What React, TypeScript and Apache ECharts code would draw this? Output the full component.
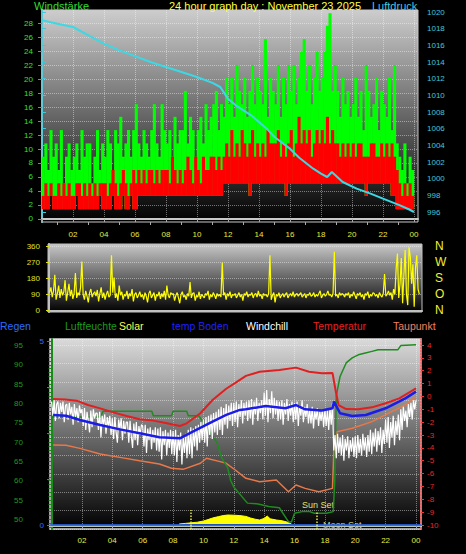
import React, { useEffect, useRef } from "react";
import * as echarts from "echarts";

const FONT = "'Liberation Sans', Arial, sans-serif";

// ---- axis tick values ----
const hourLabels = [2, 4, 6, 8, 10, 12, 14, 16, 18, 20, 22, 24];
const hourGrid = [0, 2, 4, 6, 8, 10, 12, 14, 16, 18, 20, 22, 24];
const oddHours = [1, 3, 5, 7, 9, 11, 13, 15, 17, 19, 21, 23];
const windTicks = [0, 2, 4, 6, 8, 10, 12, 14, 16, 18, 20, 22, 24, 26, 28];
const pressureTicks = [996, 998, 1000, 1002, 1004, 1006, 1008, 1010, 1012, 1014, 1016, 1018, 1020];
const dirTicks = [0, 90, 180, 270, 360];
const dirNames: Record<number, string> = { 0: "N", 90: "O", 180: "S", 270: "W", 360: "N" };
const humTicks = [50, 55, 60, 65, 70, 75, 80, 85, 90, 95];
const humMinorTicks = [48, 49, 50, 51, 52, 53, 54, 55, 56, 57, 58, 59, 60, 61, 62, 63, 64, 65, 66, 67, 68, 69, 70, 71, 72, 73, 74, 75, 76, 77, 78, 79, 80, 81, 82, 83, 84, 85, 86, 87, 88, 89, 90, 91, 92, 93, 94, 95, 96];
const rainLabels = [0, 5];
const rainTicks = [0, 1.25, 2.5, 3.75, 5];
const tempTicks = [-10, -9, -8, -7, -6, -5, -4, -3, -2, -1, 0, 1, 2, 3, 4];

// ---- wind (km/h), 10-minute samples ----
const windGust = [
  8.9, 10.8, 7.0, 12.7, 8.9, 10.8,
  7.0, 12.7, 5.1, 8.9, 10.8, 7.0,
  8.9, 10.8, 7.0, 12.7, 8.9, 10.8,
  10.8, 5.1, 8.9, 12.7, 7.0, 10.8,
  8.9, 12.7, 10.8, 7.0, 12.7, 10.8,
  14.6, 8.9, 10.8, 12.7, 8.9, 12.7,
  16.4, 10.8, 8.9, 12.7, 10.8, 8.9,
  12.7, 16.4, 10.8, 8.9, 16.4, 12.7,
  10.8, 12.7, 8.9, 14.6, 10.8, 12.7,
  12.7, 18.3, 10.8, 14.6, 12.7, 8.9,
  12.7, 14.6, 10.8, 16.4, 12.7, 14.6,
  16.4, 18.3, 12.7, 16.4, 14.6, 20.2,
  16.4, 20.2, 14.6, 22.0, 18.3, 16.4,
  20.2, 14.6, 18.3, 22.0, 16.4, 20.2,
  18.3, 16.4, 25.7, 14.6, 20.2, 18.3,
  16.4, 22.0, 14.6, 20.2, 16.4, 22.0,
  18.3, 22.0, 16.4, 20.2, 23.9, 25.7,
  18.3, 22.0, 16.4, 20.2, 23.9, 18.3,
  20.2, 23.9, 27.6, 29.4, 18.3, 22.0,
  18.3, 14.6, 20.2, 16.4, 18.3, 14.6,
  16.4, 20.2, 14.6, 18.3, 12.7, 22.0,
  18.3, 14.6, 16.4, 20.2, 12.7, 18.3,
  16.4, 14.6, 20.2, 12.7, 22.0, 10.8,
  8.9, 7.0, 10.8, 5.1, 8.9, 7.0,
];
const windSpeed = [
  3.3, 5.1, 3.3, 5.1, 3.3, 3.3,
  5.1, 3.3, 5.1, 3.3, 5.1, 3.3,
  3.3, 5.1, 5.1, 3.3, 5.1, 3.3,
  5.1, 3.3, 5.1, 3.3, 5.1, 5.1,
  5.1, 3.3, 5.1, 7.0, 5.1, 3.3,
  5.1, 7.0, 5.1, 3.3, 5.1, 7.0,
  5.1, 7.0, 5.1, 7.0, 5.1, 7.0,
  7.0, 5.1, 7.0, 5.1, 7.0, 7.0,
  7.0, 5.1, 8.9, 7.0, 5.1, 7.0,
  5.1, 7.0, 8.9, 7.0, 5.1, 8.9,
  7.0, 5.1, 8.9, 7.0, 7.0, 8.9,
  8.9, 7.0, 8.9, 7.0, 8.9, 10.8,
  8.9, 12.7, 8.9, 10.8, 8.9, 12.7,
  10.8, 8.9, 10.8, 12.7, 8.9, 10.8,
  8.9, 10.8, 8.9, 12.7, 10.8, 10.8,
  10.8, 12.7, 8.9, 10.8, 8.9, 10.8,
  12.7, 8.9, 10.8, 14.6, 10.8, 12.7,
  10.8, 12.7, 8.9, 10.8, 12.7, 10.8,
  12.7, 10.8, 14.6, 10.8, 12.7, 10.8,
  10.8, 8.9, 10.8, 8.9, 10.8, 8.9,
  10.8, 8.9, 10.8, 10.8, 8.9, 8.9,
  8.9, 10.8, 10.8, 8.9, 8.9, 10.8,
  8.9, 10.8, 8.9, 10.8, 8.9, 7.0,
  5.1, 3.3, 5.1, 3.3, 5.1, 3.3,
];
const windLull = [
  1.4, 1.4, 1.4, 3.3, 1.4, 1.4,
  1.4, 1.4, 1.4, 1.4, 1.4, 1.4,
  1.4, 3.3, 1.4, 1.4, 1.4, 1.4,
  1.4, 1.4, 1.4, 1.4, 3.3, 1.4,
  1.4, 1.4, 1.4, 3.3, 1.4, 1.4,
  1.4, 3.3, 1.4, 1.4, 3.3, 1.4,
  1.4, 3.3, 3.3, 3.3, 3.3, 3.3,
  3.3, 3.3, 3.3, 3.3, 3.3, 3.3,
  3.3, 3.3, 3.3, 3.3, 3.3, 3.3,
  3.3, 3.3, 3.3, 3.3, 3.3, 3.3,
  3.3, 3.3, 3.3, 3.3, 3.3, 3.3,
  3.3, 3.3, 3.3, 3.3, 5.1, 5.1,
  5.1, 5.1, 5.1, 5.1, 5.1, 5.1,
  5.1, 5.1, 3.3, 5.1, 5.1, 5.1,
  5.1, 5.1, 5.1, 5.1, 5.1, 5.1,
  5.1, 5.1, 5.1, 5.1, 3.3, 5.1,
  5.1, 5.1, 5.1, 5.1, 5.1, 5.1,
  5.1, 5.1, 5.1, 5.1, 5.1, 5.1,
  5.1, 5.1, 5.1, 5.1, 5.1, 5.1,
  5.1, 5.1, 5.1, 5.1, 5.1, 5.1,
  5.1, 5.1, 5.1, 5.1, 5.1, 3.3,
  5.1, 5.1, 5.1, 5.1, 5.1, 5.1,
  5.1, 5.1, 5.1, 3.3, 3.3, 1.4,
  1.4, 1.4, 1.4, 1.4, 1.4, 1.4,
];

// ---- pressure (hPa) ----
const pressureHours = [0, 1, 2, 3, 4, 5, 6, 7, 8, 9, 10, 11, 11.5, 12, 12.5, 13, 13.5, 14, 14.5, 15, 16, 16.6, 17.5, 18, 18.4, 18.7, 19.4, 20.3, 21.2, 22, 23.1, 23.7, 24];
const pressureValues = [1019.0, 1018.6, 1018.2, 1017.2, 1016.2, 1015.4, 1014.7, 1014.0, 1013.4, 1012.8, 1012.2, 1011.5, 1011.0, 1009.6, 1008.8, 1008.2, 1007.6, 1006.8, 1006.0, 1005.0, 1003.6, 1002.5, 1001.2, 1000.6, 1000.2, 1000.8, 999.6, 998.8, 998.2, 997.6, 996.8, 996.3, 996.0];

// ---- wind direction (deg), 5-minute samples ----
const windDir = [
  100, 130, 75, 110, 200, 60, 95, 140, 70, 120, 85, 105,
  170, 55, 100, 150, 80, 115, 65, 95, 210, 70, 100, 85,
  130, 275, 90, 60, 110, 80, 45, 100, 120, 75, 95, 105,
  80, 115, 50, 95, 130, 70, 100, 60, 90, 110, 75, 85,
  310, 100, 185, 70, 95, 55, 140, 85, 105, 60, 90, 80,
  110, 65, 95, 80, 120, 50, 90, 100, 70, 85, 105, 75,
  90, 60, 100, 80, 45, 95, 110, 70, 85, 100, 55, 90,
  80, 105, 65, 95, 75, 110, 60, 140, 85, 70, 100, 90,
  95, 55, 85, 100, 70, 40, 90, 105, 75, 85, 60, 95,
  80, 160, 70, 95, 100, 55, 85, 75, 105, 65, 90, 80,
  70, 95, 85, 110, 60, 90, 75, 100, 85, 65, 95, 80,
  90, 75, 270, 85, 100, 60, 95, 80, 105, 70, 90, 85,
  95, 70, 85, 100, 75, 90, 55, 95, 85, 105, 75, 90,
  85, 100, 70, 90, 95, 75, 110, 80, 90, 65, 95, 85,
  90, 75, 95, 310, 60, 85, 100, 45, 90, 80, 100, 70,
  85, 95, 75, 90, 100, 70, 85, 95, 80, 105, 75, 90,
  95, 80, 90, 100, 75, 85, 95, 70, 90, 85, 100, 80,
  85, 100, 75, 90, 80, 95, 110, 70, 85, 95, 80, 90,
  110, 85, 90, 75, 95, 330, 80, 90, 70, 100, 85, 95,
  90, 75, 95, 85, 100, 70, 90, 80, 105, 85, 65, 95,
  85, 100, 75, 90, 60, 95, 85, 105, 70, 90, 80, 100,
  95, 80, 90, 70, 100, 85, 75, 95, 205, 80, 90, 110,
  85, 100, 60, 120, 90, 235, 320, 70, 150, 295, 40, 200,
  340, 90, 30, 355, 300, 150, 260, 20, 240, 310, 120, 90,
];

// ---- bottom panel ----
const tempHours = [0.1, 0.9, 1.65, 2.4, 3.2, 4.06, 4.94, 5.8, 6.7, 7.6, 8.45, 8.9, 9.8, 10.6, 11.5, 12.1, 12.8, 13.7, 15.0, 16.1, 16.95, 17.8, 18.5, 18.7, 18.9, 19.4, 20.2, 21.1, 22.0, 22.9, 24];
const tempValues = [-0.2, -0.24, -0.33, -0.67, -0.93, -1.24, -1.52, -1.78, -1.88, -2.09, -2.3, -2.09, -1.31, -0.28, 0.6, 1.05, 1.6, 1.92, 2.06, 2.24, 1.92, 1.8, 1.83, 0.5, -0.67, -0.98, -1.0, -0.85, -0.53, -0.15, 0.63];

const bodenHours = [0.1, 0.95, 1.87, 3.2, 4.5, 5.8, 7.1, 8.45, 9.3, 10.6, 11.5, 12.4, 12.8, 14.1, 15.4, 16.1, 16.7, 17.8, 18.5, 18.6, 19.0, 19.8, 20.7, 22.0, 23.3, 24];
const bodenValues = [-1.44, -1.5, -1.83, -2.22, -2.56, -2.87, -3.18, -3.26, -2.74, -1.96, -1.44, -1.05, -1.0, -0.74, -0.92, -0.67, -1.0, -1.1, -0.92, -0.4, -1.31, -1.52, -1.44, -0.92, -0.15, 0.37];

const dewHours = [0.1, 0.95, 1.87, 3.2, 4.5, 5.8, 7.1, 7.9, 8.66, 9.8, 10.2, 11.1, 11.5, 12.1, 12.8, 13.7, 14.8, 15.6, 16.1, 16.7, 17.6, 18.5, 18.6, 18.8, 19.8, 21.1, 22.4, 23.3, 24];
const dewValues = [-3.78, -3.8, -4.04, -4.48, -4.74, -5.0, -5.25, -5.59, -5.67, -5.2, -4.81, -5.07, -5.2, -5.72, -6.37, -6.63, -6.5, -7.41, -6.89, -7.15, -7.41, -7.15, -3.9, -2.74, -2.48, -1.96, -1.18, -0.67, -0.02];

const humHours = [0, 1, 2, 3.2, 3.4, 6.6, 6.7, 7.9, 8.0, 8.9, 9.0, 9.7, 10.2, 10.9, 11.2, 11.6, 11.8, 12.0, 12.9, 13.6, 14.3, 15.0, 15.6, 15.8, 16.0, 16.5, 17.0, 17.3, 18.1, 18.55, 18.65, 18.75, 19.0, 19.4, 19.8, 20.2, 20.6, 21.1, 21.5, 22.8, 23.0, 24];
const humValues = [76.5, 76.5, 76.5, 76.5, 78, 78, 76.8, 76.8, 78, 78, 76.8, 76.8, 74, 69.8, 66, 63.3, 60, 58.4, 54.2, 54, 53.3, 53, 49.4, 49.3, 51.6, 52, 52, 51.6, 51.6, 52, 60, 82, 87, 90.5, 91.8, 92.6, 93, 93.5, 93.9, 93.9, 95, 95.2];

// windchill, 5-minute samples (+ midnight)
const windChill = [
  -0.4, -1.5, -0.3, -1.9, -0.6, -0.4, -1.7, -0.5, -1.2, -0.4, -2.0, -0.7,
  -0.6, -1.8, -0.5, -1.4, -0.8, -2.2, -0.6, -1.6, -0.9, -2.0, -0.7, -1.3,
  -1.0, -2.3, -0.9, -2.6, -1.2, -1.9, -2.8, -1.1, -2.4, -1.0, -1.7, -1.3,
  -1.3, -2.6, -1.2, -3.2, -1.5, -2.2, -1.4, -2.9, -1.6, -2.4, -1.5, -3.0,
  -1.7, -3.3, -1.6, -2.8, -3.6, -1.8, -2.5, -1.7, -3.4, -1.9, -2.9, -2.0,
  -2.0, -3.6, -1.9, -3.1, -4.0, -2.1, -3.4, -2.0, -3.8, -2.3, -3.0, -2.2,
  -2.3, -3.9, -2.2, -4.4, -2.5, -3.4, -2.4, -4.1, -2.6, -3.6, -2.4, -4.2,
  -2.5, -4.3, -2.4, -4.9, -2.7, -3.8, -2.6, -4.6, -2.8, -4.0, -2.6, -4.5,
  -2.7, -4.6, -2.6, -5.1, -3.0, -4.2, -2.8, -5.3, -3.1, -4.4, -2.9, -4.8,
  -2.6, -4.5, -2.4, -4.8, -2.5, -3.9, -2.3, -4.2, -2.2, -3.6, -2.0, -3.4,
  -1.8, -3.6, -1.6, -3.9, -1.5, -3.0, -1.4, -3.3, -1.3, -2.8, -1.2, -3.0,
  -1.0, -2.6, -0.8, -3.0, -0.9, -2.2, -0.6, -2.5, -0.7, -1.9, -0.5, -2.3,
  -0.5, -2.0, -0.4, -2.4, -0.6, -1.6, -0.3, -2.1, -0.5, -1.5, -0.4, -1.9,
  -0.3, -1.7, -0.2, -2.2, -0.4, -1.4, -0.1, -1.9, -0.5, -1.3, -0.3, -1.8,
  0.3, -1.5, 0.5, -2.0, -0.2, -1.3, 0.4, -1.7, -0.1, -1.4, -0.3, -1.9,
  -0.4, -1.8, -0.3, -2.2, -0.5, -1.4, -0.2, -1.9, -0.6, -1.5, -0.4, -2.0,
  -0.5, -1.8, -0.4, -2.3, -0.7, -1.5, -0.3, -2.0, -0.8, -1.6, -0.6, -2.1,
  -1.0, -2.1, -0.8, -2.5, -1.1, -1.8, -0.9, -2.3, -1.2, -1.9, -1.0, -2.4,
  -1.0, -2.3, -1.1, -2.6, -0.9, -2.2, -0.5, -4.2, -3.0, -4.8, -2.9, -4.4,
  -3.2, -4.6, -3.0, -5.0, -3.3, -4.2, -3.1, -4.8, -3.4, -4.3, -3.2, -4.7,
  -3.1, -4.8, -3.0, -4.4, -3.3, -4.6, -2.9, -4.2, -3.2, -4.7, -3.0, -4.3,
  -2.6, -4.5, -2.8, -3.9, -2.5, -4.3, -2.7, -3.8, -2.4, -4.4, -2.6, -3.7,
  -1.8, -3.6, -1.6, -4.0, -2.0, -3.2, -1.5, -3.8, -1.9, -3.0, -1.4, -3.4,
  -1.0, -2.6, -0.8, -1.9, -1.1, -2.4, -0.6, -1.6, -0.5, -1.8, -0.3, -1.0,
  -0.3,
];

const solarHours = [8.4, 8.8, 9.2, 9.6, 10.0, 10.3, 10.6, 11.0, 11.3, 11.6, 12.0, 12.4, 12.8, 13.1, 13.4, 13.7, 14.0, 14.2, 14.4, 14.8, 15.2, 15.5, 15.8];
const solarValues = [0, 3, 6, 9, 15, 22, 30, 37, 42, 45, 44, 42, 38, 30, 24, 20, 28, 40, 26, 20, 16, 10, 0];

const rainHours = [-0.1, 24.33];
const rainValues = [0, 0];

const sunEvents = [9.17, 17.44];

const pair = (hs: number[], vs: number[]) => hs.map((h, i) => [h, vs[i]]);
const sampled = (vs: number[], perHour: number, off: number) => vs.map((v, i) => [(i + off) / perHour, v]);
const ranged = (low: number[], high: number[], perHour: number) => high.map((v, i) => [(i + 0.5) / perHour, low[i], v]);

const hourFmt = (v: number) => {
  const h = Math.round(v) % 24;
  return (h < 10 ? "0" : "") + h;
};

const gridLine = { show: true, lineStyle: { color: "rgba(255,255,255,0.42)", type: "dotted", width: 1 } };
const bg = (top: string) =>
  new echarts.graphic.LinearGradient(0, 0, 0, 1, [
    { offset: 0, color: top },
    { offset: 1, color: "#000000" },
  ]);

const floatingBars = (color: string) => (params: any, api: any) => {
  const x = api.value(0);
  const top = api.coord([x, api.value(2)]);
  const bottom = api.coord([x, api.value(1)]);
  const w = api.size([1 / 6, 0])[0] + 0.5;
  return {
    type: "rect",
    shape: { x: top[0] - w / 2, y: top[1], width: w, height: bottom[1] - top[1] },
    style: { fill: color },
  };
};

export default function App() {
  const ref = useRef<HTMLDivElement>(null);
  useEffect(() => {
    document.body.style.margin = "0";
    document.body.style.background = "#000";
    const chart = echarts.init(ref.current!, null, { renderer: "svg" });
    const txt = (x: number, y: number, text: string, fill: string, size = 11, align = "left") => ({
      type: "text",
      x,
      y,
      silent: true,
      style: { text, fill, fontSize: size, fontFamily: FONT, textAlign: align, textVerticalAlign: "middle" },
    });
    const option: any = {
      animation: false,
      backgroundColor: "#000",
      textStyle: { fontFamily: FONT },
      grid: [
        { left: 42, top: 10, width: 376, height: 212, show: true, backgroundColor: bg("#cdcdcd"), borderColor: "#c8c8c8", borderWidth: 1 },
        { left: 48, top: 244, width: 374, height: 68, show: true, backgroundColor: bg("#c8c8c8"), borderColor: "#c0c0c0", borderWidth: 1 },
        { left: 50, top: 339, width: 371, height: 190, show: true, backgroundColor: bg("#dadada"), borderColor: "#d8d8d8", borderWidth: 1.5 },
      ],
      xAxis: [
        {
          type: "value", gridIndex: 0, min: 0, max: 24.26,
          axisLine: { show: true, lineStyle: { color: "#c8c8c8", width: 2 } },
          axisTick: { show: true, customValues: hourGrid, length: 3, lineStyle: { color: "#aaaaaa" } },
          axisLabel: { customValues: hourLabels, formatter: hourFmt, color: "#e8e840", fontSize: 8, margin: 8 },
          splitLine: gridLine,
        },
        {
          type: "value", gridIndex: 0, min: 0, max: 24.26, position: "bottom",
          axisLine: { show: false },
          axisTick: { show: true, customValues: oddHours, length: 3, lineStyle: { color: "#aaaaaa" } },
          axisLabel: { show: false },
          splitLine: { show: false },
        },
        {
          type: "value", gridIndex: 1, min: -0.065, max: 24.13,
          axisLine: { show: true, lineStyle: { color: "#c0c0c0", width: 2 } },
          axisTick: { show: false },
          axisLabel: { show: false },
          splitLine: { show: false },
        },
        {
          type: "value", gridIndex: 2, min: -0.105, max: 24.33,
          axisLine: { show: true, lineStyle: { color: "#e4e4a0", width: 2 } },
          axisTick: { show: true, customValues: hourLabels, length: 3, lineStyle: { color: "#aaaaaa" } },
          axisLabel: { customValues: hourLabels, formatter: hourFmt, color: "#e8e840", fontSize: 8, margin: 7 },
          splitLine: gridLine,
        },
      ],
      yAxis: [
        {
          type: "value", gridIndex: 0, min: -0.43, max: 29.86, position: "left",
          axisLine: { show: true, lineStyle: { color: "#c8c8c8", width: 2 } },
          axisTick: { show: true, customValues: windTicks, length: 4, lineStyle: { color: "#30c030" } },
          axisLabel: { customValues: windTicks, color: "#33e033", fontSize: 8, margin: 9 },
          splitLine: gridLine,
        },
        {
          type: "value", gridIndex: 0, min: 994.8, max: 1020.24, position: "right",
          axisLine: { show: true, lineStyle: { color: "#40c8d8", width: 1.5 } },
          axisTick: { show: true, customValues: pressureTicks, length: 4, lineStyle: { color: "#40c8d8" } },
          axisLabel: { customValues: pressureTicks, formatter: (v: number) => String(Math.round(v)), color: "#40c8d8", fontSize: 8, margin: 9 },
          splitLine: { show: false },
        },
        {
          type: "value", gridIndex: 1, min: -9, max: 373.5, position: "left",
          axisLine: { show: true, lineStyle: { color: "#c0c0c0", width: 2 } },
          axisTick: { show: true, customValues: dirTicks, length: 3, lineStyle: { color: "#e0e020" } },
          axisLabel: { customValues: dirTicks, color: "#e0e020", fontSize: 8, margin: 8 },
          splitLine: gridLine,
        },
        {
          type: "value", gridIndex: 1, min: -9, max: 373.5, position: "right",
          axisLine: { show: false },
          axisTick: { show: false },
          axisLabel: { customValues: dirTicks, formatter: (v: number) => dirNames[Math.round(v)] || "", color: "#f0f030", fontSize: 12, margin: 13 },
          splitLine: { show: false },
        },
        {
          type: "value", gridIndex: 2, min: 47.5, max: 96.7, position: "left", offset: 20,
          axisLine: { show: true, lineStyle: { color: "#1a8a1a", width: 2 } },
          axisTick: { show: true, customValues: humMinorTicks, length: 3, lineStyle: { color: "#1a8a1a" } },
          axisLabel: { customValues: humTicks, color: "#1f9a1f", fontSize: 8, margin: 7 },
          splitLine: { show: false },
        },
        {
          type: "value", gridIndex: 2, min: -0.1, max: 5.07, position: "left",
          axisLine: { show: false },
          axisTick: { show: true, customValues: rainTicks, length: 3, lineStyle: { color: "#3a6cff" } },
          axisLabel: { customValues: rainLabels, color: "#3a6cff", fontSize: 8, margin: 6 },
          splitLine: { show: false },
        },
        {
          type: "value", gridIndex: 2, min: -10.31, max: 4.467, position: "right",
          axisLine: { show: true, lineStyle: { color: "#ff5050", width: 1.5, type: "dotted" } },
          axisTick: { show: true, customValues: tempTicks, length: 3, lineStyle: { color: "#ff3030" } },
          axisLabel: { customValues: tempTicks, color: "#e82828", fontSize: 8, margin: 6 },
          splitLine: { show: false },
        },
        {
          type: "value", gridIndex: 2, min: 0, max: 10.34, interval: 1, position: "right",
          axisLine: { show: false }, axisTick: { show: false }, axisLabel: { show: false },
          splitLine: gridLine,
        },
        {
          type: "value", gridIndex: 2, min: -25, max: 925, show: false,
        },
      ],
      series: [
        {
          name: "Böen", type: "custom", xAxisIndex: 0, yAxisIndex: 0, silent: true,
          data: ranged(windLull, windGust, 6), encode: { x: 0, y: [1, 2] },
          renderItem: floatingBars("#00ff00"),
        },
        {
          name: "Wind", type: "custom", xAxisIndex: 0, yAxisIndex: 0, silent: true,
          data: ranged(windLull, windSpeed, 6), encode: { x: 0, y: [1, 2] },
          renderItem: floatingBars("#ff0000"),
        },
        {
          name: "Luftdruck", type: "line", xAxisIndex: 0, yAxisIndex: 1, showSymbol: false, silent: true,
          data: pair(pressureHours, pressureValues), lineStyle: { color: "#3cd8e4", width: 2 },
        },
        {
          name: "Windrichtung", type: "line", xAxisIndex: 2, yAxisIndex: 2, showSymbol: false, silent: true,
          data: sampled(windDir, 12, 0.5), lineStyle: { color: "#ffff00", width: 1.2 },
        },
        {
          name: "Solar", type: "line", xAxisIndex: 3, yAxisIndex: 8, showSymbol: false, silent: true,
          data: pair(solarHours, solarValues), lineStyle: { color: "#ffff00", width: 1 },
          areaStyle: { color: "#ffff00", opacity: 1 },
          markLine: {
            silent: true, symbol: "none", label: { show: false },
            lineStyle: { color: "#e8e840", type: "dotted", width: 1.5 },
            data: [
              [{ coord: [sunEvents[0], -25] }, { coord: [sunEvents[0], 70] }],
              [{ coord: [sunEvents[1], -25] }, { coord: [sunEvents[1], 60] }],
            ],
          },
        },
        {
          name: "Taupunkt", type: "line", xAxisIndex: 3, yAxisIndex: 6, showSymbol: false, silent: true,
          data: pair(dewHours, dewValues), lineStyle: { color: "#e8784a", width: 1.5 },
        },
        {
          name: "Luftfeuchte", type: "line", xAxisIndex: 3, yAxisIndex: 4, showSymbol: false, silent: true,
          data: pair(humHours, humValues), lineStyle: { color: "#1f8c1f", width: 1.5 },
        },
        {
          name: "Windchill", type: "line", xAxisIndex: 3, yAxisIndex: 6, showSymbol: false, silent: true,
          data: sampled(windChill, 12, 0), lineStyle: { color: "#ffffff", width: 1.2 },
        },
        {
          name: "Temperatur", type: "line", xAxisIndex: 3, yAxisIndex: 6, showSymbol: false, silent: true,
          data: pair(tempHours, tempValues), lineStyle: { color: "#e02020", width: 2 },
        },
        {
          name: "temp Boden", type: "line", xAxisIndex: 3, yAxisIndex: 6, showSymbol: false, silent: true,
          data: pair(bodenHours, bodenValues), lineStyle: { color: "#1c1ce8", width: 2.5 },
        },
        {
          name: "Regen", type: "line", xAxisIndex: 3, yAxisIndex: 5, showSymbol: false, silent: true,
          data: pair(rainHours, rainValues), lineStyle: { color: "#2a6cff", width: 2 },
        },
      ],
      graphic: [
        txt(34, 6, "Windstärke", "#33dd33"),
        txt(265, 6, "24 hour graph day : November 23 2025", "#ffff40", 11, "center"),
        txt(372, 6, "Luftdruck", "#40c8e0"),
        txt(0, 326, "Regen", "#2a6cff", 10.5),
        txt(65, 326, "Luftfeuchte", "#1f9a1f", 10.5),
        txt(119, 326, "Solar", "#ffff50", 10.5),
        txt(172, 326, "temp Boden", "#2020ff", 10.5),
        txt(246, 326, "Windchill", "#ffffff", 10.5),
        txt(313, 326, "Temperatur", "#e82020", 10.5),
        txt(393, 326, "Taupunkt", "#f08060", 10.5),
        txt(302, 505, "Sun Set", "#e0e070", 9),
        txt(323, 525, "Moon Set", "#d0d080", 9),
      ],
    };
    chart.setOption(option);
    return () => chart.dispose();
  }, []);
  return <div ref={ref} style={{ width: 466, height: 554, background: "#000" }} />;
}
